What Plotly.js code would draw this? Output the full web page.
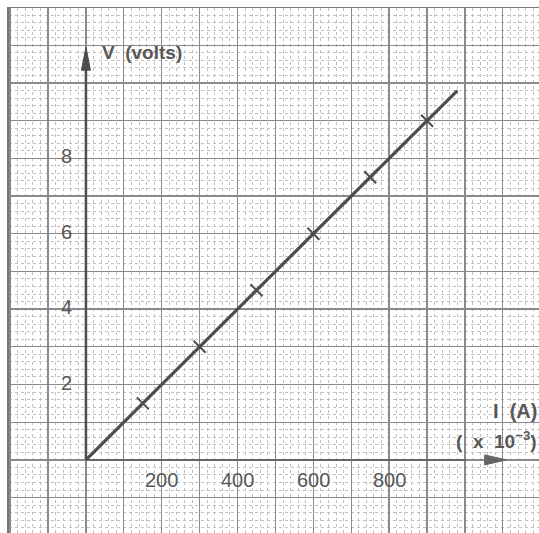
<!DOCTYPE html>
<html>
<head>
<meta charset="utf-8">
<script src="https://cdn.plot.ly/plotly-3.0.1.min.js"></script>
<style>html,body{margin:0;padding:0;background:#fff;}#chart{width:539px;height:533px;}</style>
</head>
<body>
<div id="chart"></div>
<script>
// Measured points (I in mA, V in volts)
const currentMA = [150, 300, 450, 600, 750, 900];
const voltage = [1.5, 3, 4.5, 6, 7.5, 9];
// Best-fit straight line drawn through the points
const fitCurrent = [0, 980];
const fitVoltage = [0, 9.8];
// Axis extents (arrows)
const axisIEnd = 1110;
const axisVEnd = 10.95;
// Tick labels
const xTickVals = [200, 400, 600, 800];
const xTickText = ['200', '400', '600', '800'];
const yTickVals = [2, 4, 6, 8];
const yTickText = ['2', '4', '6', '8'];

const ink = '#4d4d4d';
const txt = '#585858';
const fam = 'Liberation Sans, Arial, sans-serif';

// px per unit (for arrowhead sizes)
const W = 530, H = 525;
const xr = [-203, 1195.4], yr = [-1.94, 11.99];
const pxX = W / (xr[1] - xr[0]);
const pxY = H / (yr[1] - yr[0]);

const traces = [
  // x axis
  {x: [0, axisIEnd - 40 / pxX], y: [0, 0], mode: 'lines', line: {color: '#666', width: 2}, hoverinfo: 'skip'},
  {x: [axisIEnd, axisIEnd - 22 / pxX, axisIEnd - 22 / pxX, axisIEnd], y: [0, 5 / pxY, -5 / pxY, 0],
   mode: 'lines', fill: 'toself', fillcolor: '#666', line: {color: '#666', width: 1}, hoverinfo: 'skip'},
  // V axis
  {x: [0, 0], y: [0, axisVEnd - 10 / pxY], mode: 'lines', line: {color: ink, width: 2.5}, hoverinfo: 'skip'},
  {x: [0, -4.5 / pxX, 4.5 / pxX, 0], y: [axisVEnd, axisVEnd - 23 / pxY, axisVEnd - 23 / pxY, axisVEnd],
   mode: 'lines', fill: 'toself', fillcolor: ink, line: {color: ink, width: 1}, hoverinfo: 'skip'},
  // fit line
  {x: fitCurrent, y: fitVoltage, mode: 'lines', line: {color: ink, width: 3.2}},
  // data points
  {x: currentMA, y: voltage, mode: 'markers',
   marker: {symbol: 'x-thin', size: 12, line: {color: ink, width: 2}}}
];

const annotations = [];
xTickVals.forEach((v, i) => annotations.push({x: v, y: -0.53, xref: 'x', yref: 'y', text: xTickText[i],
  showarrow: false, font: {family: fam, size: 20, color: txt}}));
yTickVals.forEach((v, i) => annotations.push({x: -50, y: v + 0.05, xref: 'x', yref: 'y', text: yTickText[i],
  showarrow: false, font: {family: fam, size: 20, color: txt}}));
annotations.push({x: 36, y: 10.82, xref: 'x', yref: 'y', xanchor: 'left', text: '<b>V  (volts)</b>',
  showarrow: false, font: {family: fam, size: 19, color: txt}});
annotations.push({x: 1, y: 1.3, xref: 'paper', yref: 'y', xanchor: 'right', text: '<b>I  (A)</b>',
  showarrow: false, font: {family: fam, size: 20, color: txt}});
annotations.push({x: 1, y: 0.53, xref: 'paper', yref: 'y', xanchor: 'right', text: '<b>(  x  10<sup>−3</sup>)</b>',
  showarrow: false, font: {family: fam, size: 19, color: txt}});

const gridAxis = (range, dtick, minorDtick) => ({
  range: range, dtick: dtick, tick0: 0, showgrid: true, gridcolor: '#8a8a8a', gridwidth: 1.3,
  zeroline: false, showticklabels: false, ticks: '', fixedrange: true,
  minor: {dtick: minorDtick, tick0: 0, showgrid: true, gridcolor: '#c0c0c0', gridwidth: 1, griddash: 'dot'}
});

const xaxis = gridAxis(xr, 100, 20);
xaxis.side = 'top';
xaxis.showline = true; xaxis.linecolor = '#777'; xaxis.linewidth = 1.5;
const yaxis = gridAxis(yr, 1, 0.2);
yaxis.showline = true; yaxis.linecolor = '#777'; yaxis.linewidth = 2;

const layout = {
  width: 539, height: 533,
  margin: {l: 9, r: 0, t: 8, b: 0, pad: 0},
  paper_bgcolor: '#fff', plot_bgcolor: '#fff',
  showlegend: false,
  xaxis: xaxis, yaxis: yaxis,
  annotations: annotations
};

Plotly.newPlot('chart', traces, layout, {displayModeBar: false, staticPlot: true});
</script>
</body>
</html>
